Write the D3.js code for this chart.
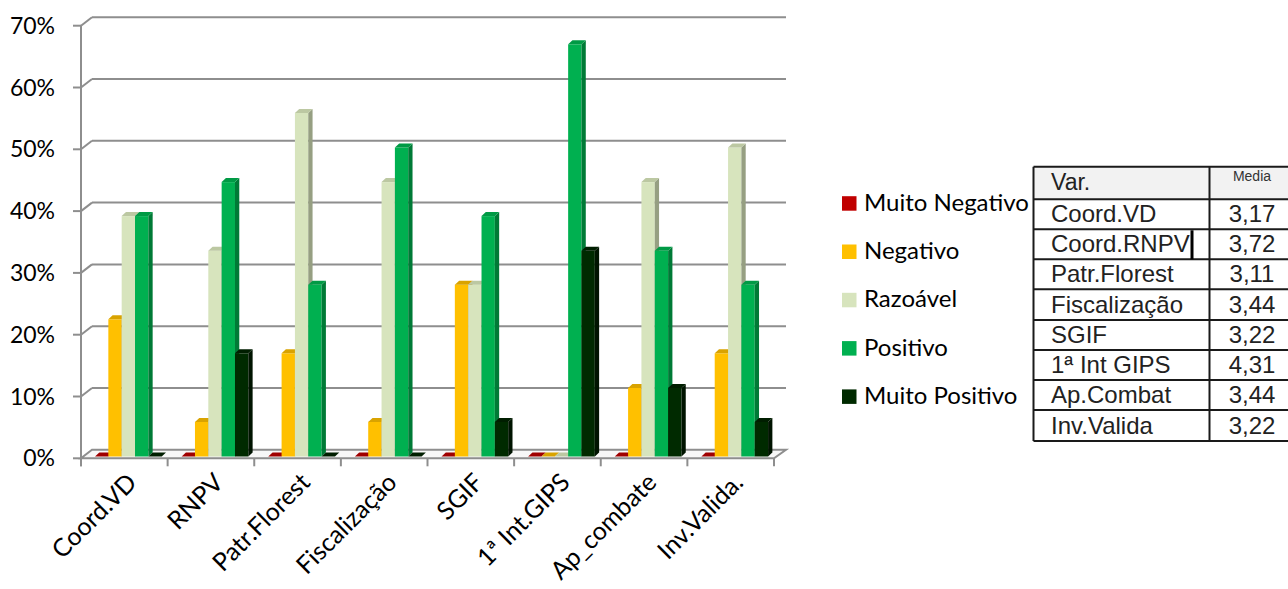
<!DOCTYPE html>
<html><head><meta charset="utf-8">
<script src="https://cdn.jsdelivr.net/npm/d3@7"></script>
<style>html,body{margin:0;padding:0;background:#fff;}svg{display:block;}</style>
</head><body>
<svg id="c" width="1288" height="589"></svg>
<script>
// ---------- data ----------
const categories = ["Coord.VD","RNPV","Patr.Florest","Fiscalização","SGIF","1ª Int.GIPS","Ap_combate","Inv.Valida."];
const seriesNames = ["Muito Negativo","Negativo","Razoável","Positivo","Muito Positivo"];
const muitoNegativo = [0,0,0,0,0,0,0,0];
const negativo      = [22.2,5.6,16.7,5.6,27.8,0,11.1,16.7];
const razoavel      = [38.9,33.3,55.6,44.4,27.8,0,44.4,50.0];
const positivo      = [38.9,44.4,27.8,50.0,38.9,66.7,33.3,27.8];
const muitoPositivo = [0,16.7,0,0,5.6,33.3,11.1,5.6];
const yTicks = [0,10,20,30,40,50,60,70];
const tableHeader = ["Var.","Media"];
const tableVars  = ["Coord.VD","Coord.RNPV","Patr.Florest","Fiscalização","SGIF","1ª Int GIPS","Ap.Combat","Inv.Valida"];
const tableMedia = ["3,17","3,72","3,11","3,44","3,22","4,31","3,44","3,22"];

const seriesValues = [muitoNegativo, negativo, razoavel, positivo, muitoPositivo];
const frontCol = ["#C00000","#FFC000","#D7E4BD","#00B050","#002A00"];
const topCol   = ["#A00000","#D9A300","#BCC8A2","#009A45","#001E00"];
const sideCol  = ["#820000","#B38600","#969F82","#007A36","#001400"];

const svg = d3.select("#c");
const font = "Lato, 'Open Sans', sans-serif";

// ---------- geometry ----------
const X0 = 81, X1 = 774;
const DX = 11, DY = -8.5;          // depth offset of back wall
const x = d3.scaleBand().domain(categories).range([X0, X1]);
const y = d3.scaleLinear().domain([0, 70]).range([458.3, 25.7]);
const yBar = d3.scaleLinear().domain([0, 70]).range([456.5, 456.5 - 432.6]);
const xs = d3.scaleBand().domain(seriesNames).range([14, 80.7]);
const bdx = 4.3, bdy = 4;         // bar depth

const grid = "#8E8E8E";
// floor
const g0 = svg.append("g");
g0.append("polygon")
  .attr("points", [[X0, y(0)], [X1, y(0)], [X1 + DX + 1, y(0) + DY], [X0 + DX, y(0) + DY]].map(p => p.join(",")).join(" "))
  .attr("fill", "#F7F7F7").attr("stroke", grid).attr("stroke-width", 2);

// gridlines (back wall) + diagonal connectors + ticks
yTicks.forEach(t => {
  if (t > 0) {
    g0.append("line").attr("x1", X0 + DX).attr("x2", X1 + DX + 1)
      .attr("y1", y(t) + DY).attr("y2", y(t) + DY)
      .attr("stroke", grid).attr("stroke-width", 2);
    g0.append("line").attr("x1", X0).attr("y1", y(t)).attr("x2", X0 + DX).attr("y2", y(t) + DY)
      .attr("stroke", grid).attr("stroke-width", 2);
  }
  g0.append("line").attr("x1", X0 - 8).attr("x2", X0).attr("y1", y(t)).attr("y2", y(t))
    .attr("stroke", grid).attr("stroke-width", 2);
  g0.append("text").attr("x", 55).attr("y", y(t) + 8)
    .attr("text-anchor", "end").attr("font-family", font).attr("font-size", 23)
    .attr("fill", "#000").text(t + "%");
});
// front vertical axis
g0.append("line").attr("x1", X0).attr("x2", X0).attr("y1", y(70)).attr("y2", y(0) + 8)
  .attr("stroke", grid).attr("stroke-width", 2);
// category ticks
d3.range(categories.length + 1).forEach(i => {
  const xx = X0 + i * x.bandwidth();
  g0.append("line").attr("x1", xx).attr("x2", xx).attr("y1", y(0)).attr("y2", y(0) + 8)
    .attr("stroke", grid).attr("stroke-width", 2);
});

// ---------- bars ----------
const gb = svg.append("g");
categories.forEach((c, ci) => {
  seriesNames.forEach((s, si) => {
    const v = seriesValues[si][ci];
    const bx = x(c) + xs(s), bw = xs.bandwidth();
    const yt = yBar(v), yb = yBar(0);
    const pts = a => a.map(p => p.join(",")).join(" ");
    if (v > 0) {
      gb.append("rect").attr("x", bx).attr("y", yt).attr("width", bw).attr("height", yb - yt)
        .attr("fill", frontCol[si]);
      gb.append("polygon").attr("points", pts([[bx + bw, yt], [bx + bw + bdx, yt - bdy], [bx + bw + bdx, yb - bdy], [bx + bw, yb]]))
        .attr("fill", sideCol[si]);
    }
    gb.append("polygon").attr("points", pts([[bx, yt], [bx + bdx, yt - bdy], [bx + bw + bdx, yt - bdy], [bx + bw, yt]]))
      .attr("fill", topCol[si]);
  });
});

// ---------- x labels ----------
categories.forEach(c => {
  const cx = x(c) + x.bandwidth() / 2;
  svg.append("text")
    .attr("transform", `translate(${cx + 14},${484}) rotate(-45)`)
    .attr("text-anchor", "end").attr("font-family", font).attr("font-size", 25)
    .attr("fill", "#000").text(c);
});

// ---------- legend ----------
const lg = svg.append("g");
seriesNames.forEach((s, i) => {
  const by = 210.7 + i * 48.3;
  lg.append("rect").attr("x", 842).attr("y", by - 14.5).attr("width", 14.5).attr("height", 14.5).attr("fill", frontCol[i]);
  lg.append("text").attr("x", 864).attr("y", by).attr("font-family", font).attr("font-size", 24)
    .attr("fill", "#000").text(s);
});

// ---------- table ----------
const tg = svg.append("g");
const tL = 1033.5, tM = 1209.5, tR = 1300, tTop = 166.7;
const rowB = [199.3, 229.3, 259.3, 289.3, 320, 350, 380, 410, 441];
const tfont = "'Liberation Sans', Arial, sans-serif";
tg.append("rect").attr("x", tL).attr("y", tTop).attr("width", tR - tL).attr("height", rowB[8] - tTop).attr("fill", "#fff");
tg.append("rect").attr("x", tL).attr("y", tTop).attr("width", tR - tL).attr("height", rowB[0] - tTop).attr("fill", "#F2F2F2");
[tTop].concat(rowB).forEach(yy => {
  tg.append("line").attr("x1", tL).attr("x2", tR).attr("y1", yy).attr("y2", yy).attr("stroke", "#1a1a1a").attr("stroke-width", 2);
});
[tL, tM].forEach(xx => {
  tg.append("line").attr("x1", xx).attr("x2", xx).attr("y1", tTop).attr("y2", rowB[8]).attr("stroke", "#1a1a1a").attr("stroke-width", 2);
});
tg.append("text").attr("x", 1051).attr("y", 190).attr("font-family", tfont).attr("font-size", 23).attr("fill", "#222").text(tableHeader[0]);
tg.append("text").attr("x", 1252).attr("y", 181).attr("text-anchor", "middle").attr("font-family", tfont).attr("font-size", 14).attr("fill", "#333").text(tableHeader[1]);
tableVars.forEach((v, i) => {
  const base = rowB[i + 1] - 7.5;
  tg.append("text").attr("x", 1051).attr("y", base).attr("font-family", tfont).attr("font-size", 24).attr("fill", "#222").text(v);
  tg.append("text").attr("x", 1252).attr("y", base).attr("text-anchor", "middle").attr("font-family", tfont).attr("font-size", 24).attr("fill", "#222").text(tableMedia[i]);
});
// cell cursor artifact in Coord.RNPV row
tg.append("rect").attr("x", 1190.5).attr("y", rowB[1] + 1).attr("width", 3).attr("height", rowB[2] - rowB[1] - 1).attr("fill", "#000");
</script>
</body></html>
